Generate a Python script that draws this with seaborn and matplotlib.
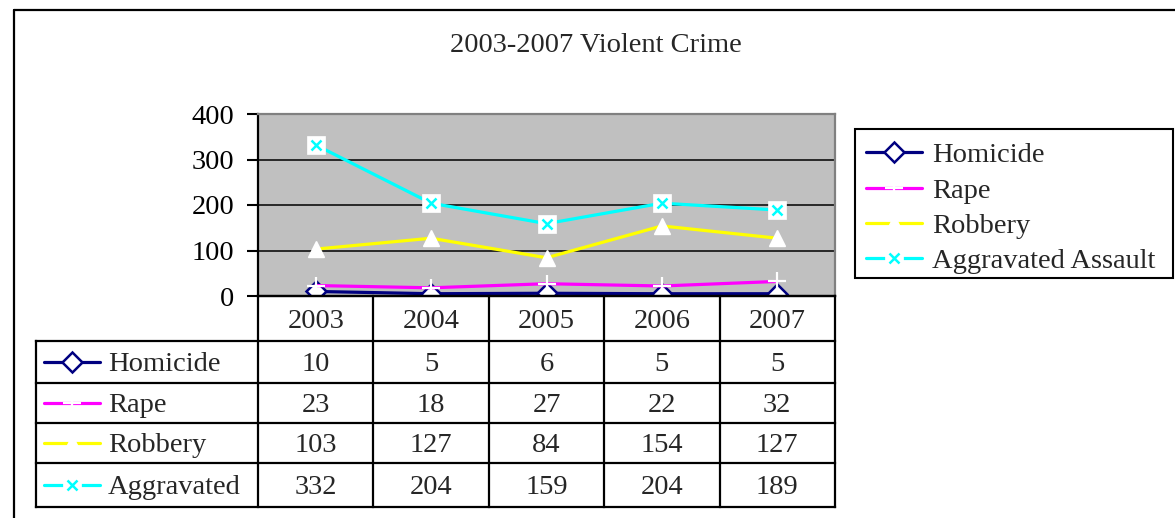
import matplotlib
matplotlib.use("Agg")
import matplotlib.pyplot as plt
from matplotlib.lines import Line2D
from matplotlib.patches import Rectangle
from matplotlib.legend_handler import HandlerTuple
import seaborn as sns
import pandas as pd

# ---- data -------------------------------------------------------------
years = [2003, 2004, 2005, 2006, 2007]
series_names = ["Homicide", "Rape", "Robbery", "Aggravated Assault"]
table_labels = ["Homicide", "Rape", "Robbery", "Aggravated"]
homicide = [10, 5, 6, 5, 5]
rape = [23, 18, 27, 22, 32]
robbery = [103, 127, 84, 154, 127]
aggravated = [332, 204, 159, 204, 189]
y_ticks = [0, 100, 200, 300, 400]
title = "2003-2007 Violent Crime"

values = [homicide, rape, robbery, aggravated]
df = pd.DataFrame({"year": years * 4,
                   "series": [n for n in series_names for _ in years],
                   "count": [v for vals in values for v in vals]})

# ---- style ------------------------------------------------------------
sns.set_style("white")
plt.rcParams["font.family"] = ["Liberation Serif", "DejaVu Serif"]
FS = 20.5

NAVY, MAGENTA, YELLOW, CYAN = "#000080", "#FF00FF", "#FFFF00", "#00FFFF"
styles = {
    "Homicide": dict(color=NAVY, marker="D", markersize=10, markerfacecolor="white",
                     markeredgecolor=NAVY, markeredgewidth=1.8),
    "Rape": dict(color=MAGENTA, marker="+", markersize=13, markerfacecolor="white",
                 markeredgecolor="white", markeredgewidth=1.6),
    "Robbery": dict(color=YELLOW, marker="^", markersize=11, markerfacecolor="white",
                    markeredgecolor="white", markeredgewidth=1.0),
    "Aggravated Assault": dict(color=CYAN, marker="s", markersize=12.5,
                               markerfacecolor="white", markeredgecolor="white",
                               markeredgewidth=0.5),
}
cross_style = dict(color=CYAN, marker="x", markersize=6.5, markeredgecolor=CYAN,
                   markeredgewidth=1.8, linestyle="none")
LW = 2.3

W, H = 1175, 518
fig = plt.figure(figsize=(W / 100, H / 100), dpi=100)


def fx(px):
    return px / W


def fy(py):
    return 1 - py / H


# ---- chart axes -------------------------------------------------------
PL, PR, PT, PB = 258, 835, 114, 296
ax = fig.add_axes([fx(PL), fy(PB), fx(PR - PL), (PB - PT) / H])
ax.set_facecolor("#C0C0C0")

for name in series_names:
    sub = df[df["series"] == name]
    sns.lineplot(data=sub, x="year", y="count", ax=ax, linewidth=LW,
                 legend=False, **styles[name])
    if name == "Aggravated Assault":
        sns.lineplot(data=sub, x="year", y="count", ax=ax, legend=False,
                     **cross_style)

ax.set_xlim(years[0] - 0.5, years[-1] + 0.5)
ax.set_ylim(y_ticks[0], y_ticks[-1])
ax.set_yticks(y_ticks)
ax.set_yticklabels([str(t) for t in y_ticks], fontsize=FS)
ax.set_xticks([])
ax.set_xlabel("")
ax.set_ylabel("")
ax.tick_params(axis="y", direction="out", length=8, width=1.5, pad=9,
               left=True, colors="black")
ax.yaxis.grid(True, color="black", linewidth=1.1)
ax.set_axisbelow(True)
for side in ("top", "right"):
    ax.spines[side].set_color("#808080")
    ax.spines[side].set_linewidth(1.6)
for side in ("left", "bottom"):
    ax.spines[side].set_color("black")
    ax.spines[side].set_linewidth(1.6)

# ---- legend (entries plus a separate box) -----------------------------
handles = []
for name in series_names:
    h = Line2D([], [], linewidth=LW, **styles[name])
    if name == "Aggravated Assault":
        h = (h, Line2D([], [], **cross_style))
    handles.append(h)
fig.legend(handles, series_names, loc="upper left",
           bbox_to_anchor=(fx(855), fy(131)), bbox_transform=fig.transFigure,
           borderaxespad=0, fontsize=FS, numpoints=1, handlelength=1.95,
           handletextpad=0.35, labelspacing=0.33, borderpad=0.4,
           frameon=False, handler_map={tuple: HandlerTuple(ndivide=1)})
LB_L, LB_T, LB_R, LB_B = 855, 129, 1173, 278
fig.add_artist(Rectangle((fx(LB_L), fy(LB_B)), fx(LB_R - LB_L), (LB_B - LB_T) / H,
                         transform=fig.transFigure, fill=False,
                         edgecolor="black", linewidth=1.5))

# ---- data table -------------------------------------------------------
TL, TB = 36, 507
row_edges = [296, 341, 383, 423, 463, 507]
col_w = (PR - PL) / len(years)
x0 = years[0] - 0.5 - (PL - TL) / col_w
x_right = years[-1] + 0.5
axt = fig.add_axes([fx(TL), fy(TB), fx(PR - TL), (TB - PB) / H])
axt.set_xlim(x0, x_right)
axt.set_ylim(TB, PB)
axt.axis("off")

line_kw = dict(color="black", linewidth=1.6, clip_on=False, solid_capstyle="projecting")
axt.plot([years[0] - 0.5, x_right], [row_edges[0]] * 2, **line_kw)
for yv in row_edges[1:]:
    axt.plot([x0, x_right], [yv, yv], **line_kw)
for i in range(len(years) + 1):
    xv = years[0] - 0.5 + i
    axt.plot([xv, xv], [row_edges[0], row_edges[-1]], **line_kw)
axt.plot([x0, x0], [row_edges[1], row_edges[-1]], **line_kw)

TEXT_DROP = 3  # text sits a little below the row middle

# header row: years
hy = (row_edges[0] + row_edges[1]) / 2 + TEXT_DROP
for yr in years:
    axt.text(yr, hy, str(yr), ha="center", va="center", fontsize=FS)

# body rows: legend key, label, values
key_a = x0 + 8 / col_w
key_b = x0 + 64 / col_w
text_x = x0 + 72 / col_w
for r, (name, label, vals) in enumerate(zip(series_names, table_labels, values)):
    cy = (row_edges[r + 1] + row_edges[r + 2]) / 2
    st = dict(styles[name])
    axt.plot([key_a, (key_a + key_b) / 2, key_b], [cy] * 3, linewidth=LW,
             markevery=[1], clip_on=False, **st)
    if name == "Aggravated Assault":
        axt.plot([(key_a + key_b) / 2], [cy], clip_on=False, **cross_style)
    axt.text(text_x, cy + TEXT_DROP, label, ha="left", va="center", fontsize=FS)
    for yr, v in zip(years, vals):
        axt.text(yr, cy + TEXT_DROP, str(v), ha="center", va="center", fontsize=FS)

# ---- title and outer frame -------------------------------------------
fig.text(fx(596), fy(46), title, ha="center", va="center", fontsize=FS)
frame_kw = dict(color="black", linewidth=1.6, transform=fig.transFigure)
fig.add_artist(Line2D([fx(14), 1.0], [fy(10), fy(10)], **frame_kw))
fig.add_artist(Line2D([fx(14), fx(14)], [fy(10), 0.0], **frame_kw))

fig.savefig("out.png", dpi=100, facecolor="white")
